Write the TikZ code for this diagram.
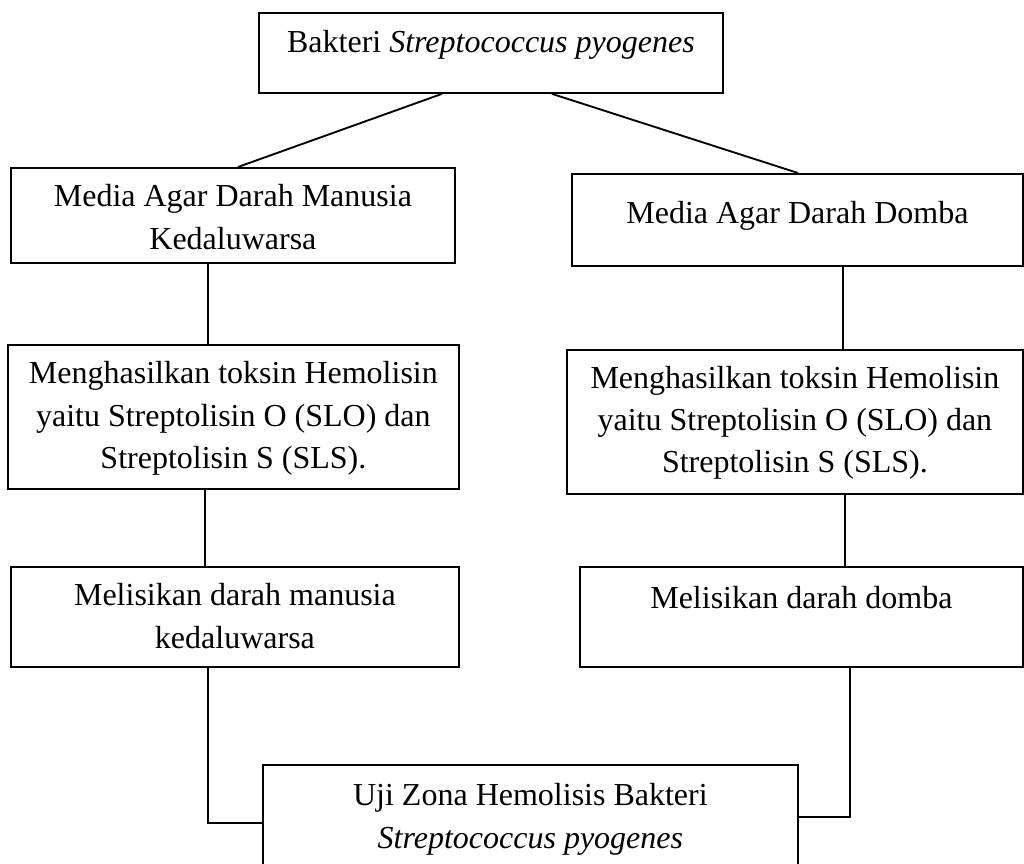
\documentclass[tikz,border=0pt]{standalone}
\usepackage{fontspec}
\setmainfont{Liberation Serif}
\usepackage{tikz}

\begin{document}
\begin{tikzpicture}[x=0.375pt,y=-0.375pt,line width=0.7pt,
    box/.style={draw,anchor=north west,align=center,inner sep=0pt,
      font=\fontsize{12}{15.9}\selectfont}]
        \useasboundingbox (0,0) rectangle (1024,864);
        \clip (0,0) rectangle (1024,864);

        \node[box,minimum width=174pt,text height=15pt,text depth=15pt] (bakteri) at (258,12)
          {Bakteri \textit{Streptococcus pyogenes}};
        \node[box,minimum width=166.5pt,text height=30.5pt,text depth=5.1pt] (mdm) at (10,167)
          {Media Agar Darah Manusia\\Kedaluwarsa};
        \node[box,minimum width=169.1pt,text height=18.4pt,text depth=16.1pt] (mdd) at (571,173)
          {Media Agar Darah Domba};
        \node[box,minimum width=169.1pt,text height=46.4pt,text depth=7.6pt] (toksinm) at (7,344)
          {Menghasilkan toksin Hemolisin\\yaitu Streptolisin O (SLO) dan\\Streptolisin S (SLS).};
        \node[box,minimum width=171pt,text height=46.1pt,text depth=7.9pt] (toksind) at (566,349)
          {Menghasilkan toksin Hemolisin\\yaitu Streptolisin O (SLO) dan\\Streptolisin S (SLS).};
        \node[box,minimum width=168pt,text height=30.5pt,text depth=7pt] (lisism) at (10,566)
          {Melisikan darah manusia\\kedaluwarsa};
        \node[box,minimum width=166.1pt,text height=15.4pt,text depth=22.1pt] (lisisd) at (579,566)
          {Melisikan darah domba};
        \node[box,minimum width=200.6pt,text height=31.3pt,text depth=14.1pt] (uji) at (262,764)
          {Uji Zona Hemolisis Bakteri\\\textit{Streptococcus pyogenes}};

        \draw (bakteri.south -| 442,0) -- (mdm.north -| 238,0);
        \draw (bakteri.south -| 552,0) -- (mdd.north -| 798,0);
        \draw (mdm.south -| 208,0) -- (toksinm.north -| 208,0);
        \draw (mdd.south -| 843,0) -- (toksind.north -| 843,0);
        \draw (toksinm.south -| 205,0) -- (lisism.north -| 205,0);
        \draw (toksind.south -| 845,0) -- (lisisd.north -| 845,0);
        \draw (lisism.south -| 208,0) |- (uji.west |- 0,823);
        \draw (lisisd.south -| 850,0) |- (uji.east |- 0,817);
      \end{tikzpicture}
\end{document}
